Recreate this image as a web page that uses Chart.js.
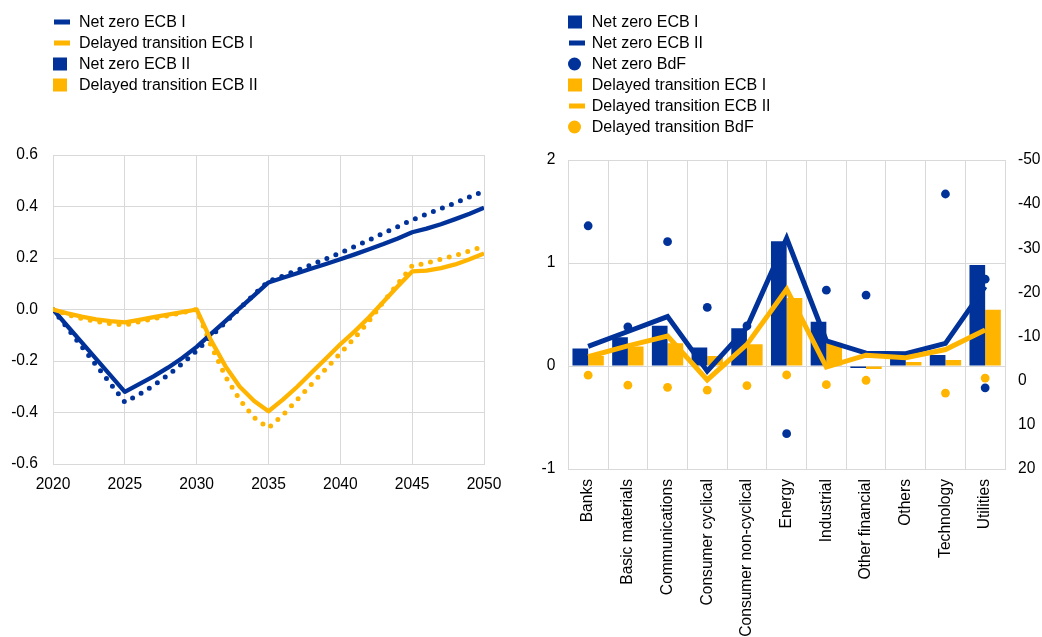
<!DOCTYPE html>
<html>
<head>
<meta charset="utf-8">
<script src="https://cdn.jsdelivr.net/npm/chart.js@4.4.1/dist/chart.umd.min.js"></script>
<style>
  html, body { margin: 0; padding: 0; background: #fff; }
  body { width: 1042px; height: 637px; position: relative; overflow: hidden;
         font-family: "Liberation Sans", Arial, sans-serif; color: #000; }
  canvas { position: absolute; top: 0; }
  #leftChart { left: 0; }
  #rightChart { left: 520px; }
  .legend { position: absolute; top: 11px; font-size: 16px; }
  .legend .row { display: flex; align-items: center; height: 21.1px; white-space: nowrap; }
  .legend .ico { flex: none; position: relative; height: 21.1px; }
  .legend .ico span { position: absolute; top: 50%; transform: translateY(-50%); }
  #legendLeft { left: 53px; }
  #legendLeft .ico { width: 26px; }
  #legendRight { left: 568px; }
  #legendRight .ico { width: 23.8px; }
</style>
</head>
<body>
<canvas id="leftChart" width="520" height="637"></canvas>
<canvas id="rightChart" width="522" height="637"></canvas>
<div class="legend" id="legendLeft"></div>
<div class="legend" id="legendRight"></div>
<script>
// left panel: annual paths
const years = [2020, 2021, 2022, 2023, 2024, 2025, 2026, 2027, 2028, 2029, 2030,
  2031, 2032, 2033, 2034, 2035, 2036, 2037, 2038, 2039, 2040,
  2041, 2042, 2043, 2044, 2045, 2046, 2047, 2048, 2049, 2050];
const netZeroI = [0, -0.072, -0.144, -0.216, -0.288, -0.36, -0.33, -0.295, -0.255, -0.21, -0.16,
  -0.105, -0.05, 0.005, 0.058, 0.11, 0.13, 0.152, 0.174, 0.197, 0.22,
  0.245, 0.27, 0.296, 0.322, 0.348, 0.37, 0.392, 0.414, 0.437, 0.46];
const netZeroII = [0, -0.064, -0.128, -0.192, -0.256, -0.32, -0.29, -0.26, -0.226, -0.188, -0.145,
  -0.095, -0.045, 0.005, 0.055, 0.105, 0.123, 0.141, 0.159, 0.177, 0.195,
  0.214, 0.234, 0.254, 0.276, 0.3, 0.314, 0.331, 0.351, 0.372, 0.395];
const delayedI = [0, -0.02, -0.035, -0.047, -0.055, -0.06, -0.048, -0.036, -0.024, -0.012, 0,
  -0.14, -0.26, -0.35, -0.42, -0.46, -0.41, -0.35, -0.29, -0.23, -0.17,
  -0.11, -0.045, 0.03, 0.1, 0.17, 0.18, 0.195, 0.21, 0.228, 0.245];
const delayedII = [0, -0.015, -0.028, -0.038, -0.045, -0.05, -0.04, -0.03, -0.02, -0.01, 0,
  -0.12, -0.22, -0.3, -0.355, -0.395, -0.35, -0.3, -0.245, -0.19, -0.135,
  -0.085, -0.03, 0.03, 0.09, 0.148, 0.151, 0.161, 0.175, 0.195, 0.218];

// right panel: sectors
const sectors = ['Banks', 'Basic materials', 'Communications', 'Consumer cyclical',
  'Consumer non-cyclical', 'Energy', 'Industrial', 'Other financial', 'Others',
  'Technology', 'Utilities'];
const nzEcbI = [0.17, 0.28, 0.39, 0.18, 0.366, 1.21, 0.43, -0.02, 0.09, 0.107, 0.98];
const dtEcbI = [0.097, 0.19, 0.22, 0.097, 0.21, 0.66, 0.226, -0.03, 0.04, 0.058, 0.545];
const nzEcbII = [0.19, 0.335, 0.48, -0.05, 0.375, 1.24, 0.245, 0.125, 0.12, 0.22, 0.77];
const dtEcbII = [0.09, 0.195, 0.29, -0.135, 0.21, 0.745, -0.01, 0.105, 0.08, 0.16, 0.35];
const nzBdF = [-35.1, -12.2, -31.5, -16.6, -12.4, 12.0, -20.5, -19.4, null, -42.3, -23];
const nzBdFExtra = [['Utilities', 1.6]];
const dtBdF = [-1.25, 1.0, 1.5, 2.15, 1.1, -1.3, 0.9, -0.1, null, 2.8, -0.6];

const BLUE = '#003299';
const YELLOW = '#ffb400';
const GRID = '#d9d9d9';
const FONT = { family: '"Liberation Sans", Arial, sans-serif', size: 15.6 };

function legend(id, items) {
  const box = document.getElementById(id);
  items.forEach(([kind, color, text]) => {
    const row = document.createElement('div');
    row.className = 'row';
    const ico = document.createElement('div');
    ico.className = 'ico';
    const s = document.createElement('span');
    s.style.background = color;
    if (kind === 'line') { s.style.left = '1px'; s.style.width = '16px'; s.style.height = '5px'; }
    else if (kind === 'square') { s.style.left = '0'; s.style.width = '13.5px'; s.style.height = '13px'; }
    else { s.style.left = '0'; s.style.width = '13px'; s.style.height = '13px'; s.style.borderRadius = '50%'; }
    ico.appendChild(s);
    row.appendChild(ico);
    const t = document.createElement('span');
    t.textContent = text;
    row.appendChild(t);
    box.appendChild(row);
  });
}

legend('legendLeft', [
  ['line', BLUE, 'Net zero ECB I'],
  ['line', YELLOW, 'Delayed transition ECB I'],
  ['square', BLUE, 'Net zero ECB II'],
  ['square', YELLOW, 'Delayed transition ECB II']
]);
legend('legendRight', [
  ['square', BLUE, 'Net zero ECB I'],
  ['line', BLUE, 'Net zero ECB II'],
  ['circle', BLUE, 'Net zero BdF'],
  ['square', YELLOW, 'Delayed transition ECB I'],
  ['line', YELLOW, 'Delayed transition ECB II'],
  ['circle', YELLOW, 'Delayed transition BdF']
]);

function pts(arr) {
  return years.map((y, i) => ({ x: y, y: arr[i] }));
}

new Chart(document.getElementById('leftChart'), {
  type: 'line',
  data: {
    datasets: [
      { label: 'Delayed transition ECB II', data: pts(delayedII), borderColor: YELLOW, borderWidth: 4.3, order: 0 },
      { label: 'Net zero ECB II', data: pts(netZeroII), borderColor: BLUE, borderWidth: 4.3, order: 1 },
      { label: 'Delayed transition ECB I', data: pts(delayedI), borderColor: YELLOW, borderWidth: 5,
        borderDash: [0, 9.7], borderCapStyle: 'round', order: 2 },
      { label: 'Net zero ECB I', data: pts(netZeroI), borderColor: BLUE, borderWidth: 5,
        borderDash: [0, 9.7], borderCapStyle: 'round', order: 3 }
    ]
  },
  options: {
    responsive: false,
    animation: false,
    layout: { padding: { top: 155, right: 36, left: 0, bottom: 0 } },
    elements: { point: { radius: 0 }, line: { tension: 0, borderJoinStyle: 'round' } },
    plugins: { legend: { display: false }, tooltip: { enabled: false } },
    scales: {
      x: {
        type: 'linear', min: 2020, max: 2050,
        afterFit: s => { s.height = 173; },
        ticks: { stepSize: 5, padding: 11, color: '#000', font: FONT, maxRotation: 0, callback: v => String(v) },
        grid: { color: GRID, drawTicks: false },
        border: { color: GRID }
      },
      y: {
        min: -0.6, max: 0.6,
        afterFit: s => { s.width = 53; },
        ticks: { stepSize: 0.2, padding: 15, color: '#000', font: FONT,
          callback: v => (Math.abs(v) < 1e-9 ? '0.0' : v.toFixed(1)) },
        grid: { color: GRID, drawTicks: false },
        border: { color: GRID }
      }
    }
  }
});

const nzBdFPts = sectors.map((c, i) => ({ x: c, y: nzBdF[i] }))
  .concat(nzBdFExtra.map(([c, v]) => ({ x: c, y: v })));
const dtBdFPts = sectors.map((c, i) => ({ x: c, y: dtBdF[i] }));

new Chart(document.getElementById('rightChart'), {
  type: 'bar',
  data: {
    labels: sectors,
    datasets: [
      { type: 'line', label: 'Net zero BdF', data: nzBdFPts, yAxisID: 'y2', showLine: false,
        pointRadius: 4.4, pointBackgroundColor: BLUE, pointBorderWidth: 0, order: 0 },
      { type: 'line', label: 'Delayed transition BdF', data: dtBdFPts, yAxisID: 'y2', showLine: false,
        pointRadius: 4.4, pointBackgroundColor: YELLOW, pointBorderWidth: 0, order: 0 },
      { type: 'line', label: 'Delayed transition ECB II', data: dtEcbII, borderColor: YELLOW,
        borderWidth: 5, pointRadius: 0, order: 1 },
      { type: 'line', label: 'Net zero ECB II', data: nzEcbII, borderColor: BLUE,
        borderWidth: 5, pointRadius: 0, order: 2 },
      { label: 'Net zero ECB I', data: nzEcbI, backgroundColor: BLUE, order: 3 },
      { label: 'Delayed transition ECB I', data: dtEcbI, backgroundColor: YELLOW, order: 4 }
    ]
  },
  options: {
    responsive: false,
    animation: false,
    layout: { padding: { top: 160, right: 0, left: 0, bottom: 0 } },
    datasets: { bar: { categoryPercentage: 0.79, barPercentage: 1 } },
    elements: { line: { tension: 0, borderJoinStyle: 'miter' } },
    plugins: { legend: { display: false }, tooltip: { enabled: false } },
    scales: {
      x: {
        afterFit: s => { s.height = 168; },
        ticks: { autoSkip: false, minRotation: 90, maxRotation: 90, padding: 10, color: '#000', font: FONT },
        grid: { color: GRID, drawTicks: false },
        border: { color: GRID }
      },
      y: {
        position: 'left', min: -1, max: 2,
        afterFit: s => { s.width = 48.3; },
        ticks: { stepSize: 1, padding: 13, color: '#000', font: FONT },
        grid: { color: GRID, drawTicks: false },
        border: { color: GRID }
      },
      y2: {
        position: 'right', min: -50, max: 20, reverse: true,
        afterFit: s => { s.width = 37; },
        ticks: { stepSize: 10, padding: 13, color: '#000', font: FONT },
        grid: { drawOnChartArea: false, drawTicks: false },
        border: { color: GRID }
      }
    }
  }
});
</script>
</body>
</html>
